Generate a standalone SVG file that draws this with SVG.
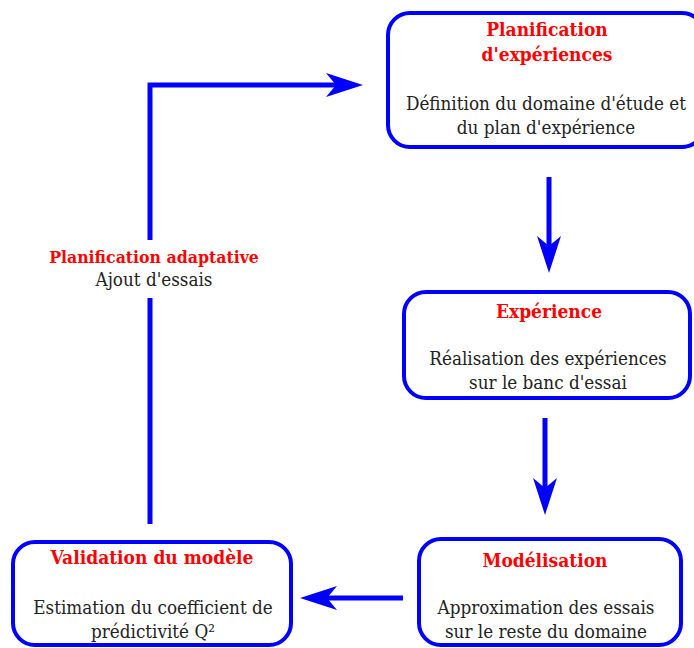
<svg xmlns="http://www.w3.org/2000/svg" width="694" height="648" viewBox="0 0 694 648">
<style>
.box{fill:#fff;stroke:#0000ff;stroke-width:4}
.t{font-family:"DejaVu Serif","Liberation Serif",serif;font-stretch:condensed;font-weight:bold;fill:#ff0000;font-size:19px;text-anchor:middle}
.s{font-size:17.5px}
.b{font-family:"DejaVu Serif","Liberation Serif",serif;font-stretch:condensed;fill:#222;font-size:18.7px;text-anchor:middle}
.c{fill:none;stroke:#0000ff;stroke-width:5}
</style>
<defs>
<marker id="ah" viewBox="-40 -15 42 30" refX="-20" refY="0" markerWidth="42" markerHeight="30" markerUnits="userSpaceOnUse" orient="auto">
<path d="M0,0 L-37,-12 L-27,0 L-37,12 Z" fill="#0000ff"/>
</marker>
</defs>
<rect width="694" height="648" fill="#fff"/>
<g id="connectors">
<path class="c" d="M549,177 L549,253" marker-end="url(#ah)"/>
<path class="c" d="M545,418 L545,495" marker-end="url(#ah)"/>
<path class="c" d="M403,598 L320,598" marker-end="url(#ah)"/>
<path class="c" d="M150,524 L150,298"/>
<path class="c" d="M150,240 L150,85 L343,85" marker-end="url(#ah)"/>
</g>
<g id="label-adaptative">
<text class="t s" x="154" y="263">Planification adaptative</text>
<text class="b" x="154" y="286">Ajout d'essais</text>
</g>
<g id="planification">
<rect class="box" x="388" y="13" width="316" height="134" rx="22"/>
<text class="t" x="547" y="36">Planification</text>
<text class="t" x="547" y="61">d'expériences</text>
<text class="b" x="546" y="110">Définition du domaine d'étude et</text>
<text class="b" x="546" y="134">du plan d'expérience</text>
</g>
<g id="experience">
<rect class="box" x="404" y="292" width="286" height="106" rx="22"/>
<text class="t" x="549" y="318">Expérience</text>
<text class="b" x="548" y="365">Réalisation des expériences</text>
<text class="b" x="548" y="389">sur le banc d'essai</text>
</g>
<g id="modelisation">
<rect class="box" x="419" y="539" width="262" height="106" rx="22"/>
<text class="t" x="545" y="567">Modélisation</text>
<text class="b" x="546" y="614">Approximation des essais</text>
<text class="b" x="546" y="638">sur le reste du domaine</text>
</g>
<g id="validation">
<rect class="box" x="13" y="542" width="278" height="103" rx="22"/>
<text class="t" x="152" y="564">Validation du modèle</text>
<text class="b" x="153" y="614">Estimation du coefficient de</text>
<text class="b" x="153" y="638">prédictivité Q²</text>
</g>
</svg>
